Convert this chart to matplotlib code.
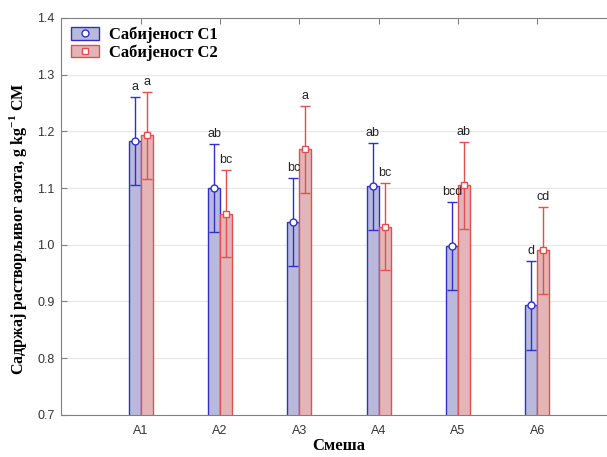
import numpy as np
import matplotlib.pyplot as plt
from matplotlib.patches import Patch
from matplotlib.lines import Line2D

# data
mixes = ['A1', 'A2', 'A3', 'A4', 'A5', 'A6']
c1_mean = [1.183, 1.100, 1.040, 1.103, 0.998, 0.893]
c1_err = [0.077, 0.077, 0.077, 0.077, 0.077, 0.078]
c2_mean = [1.193, 1.055, 1.168, 1.032, 1.105, 0.990]
c2_err = [0.077, 0.077, 0.077, 0.077, 0.077, 0.077]
c1_letters = ['a', 'ab', 'bc', 'ab', 'bcd', 'd']
c2_letters = ['a', 'bc', 'a', 'bc', 'ab', 'cd']

blue_edge = '#3030c8'
blue_fill = '#b9b9dc'
red_edge = '#e05050'
red_fill = '#e3b5b8'

plt.rcParams['font.family'] = ['Liberation Sans', 'DejaVu Sans']
plt.rcParams['mathtext.fontset'] = 'custom'
plt.rcParams['mathtext.rm'] = 'Liberation Serif:bold'
plt.rcParams['mathtext.bf'] = 'Liberation Serif:bold'

fig = plt.figure(figsize=(6.07, 4.57), dpi=100)
# right spine falls just outside the picture, as in the original
ax = fig.add_axes([0.1012, 0.092, 0.9145, 0.869])

x = np.arange(1, len(mixes) + 1)
w = 0.15

ax.bar(x - w / 2, c1_mean, w, color=blue_fill, edgecolor=blue_edge, lw=1, zorder=2)
ax.bar(x + w / 2, c2_mean, w, color=red_fill, edgecolor=red_edge, lw=1, zorder=2)
ax.errorbar(x - w / 2, c1_mean, yerr=c1_err, fmt='none', ecolor=blue_edge,
            elinewidth=1, capsize=3.5, capthick=1, zorder=3)
ax.errorbar(x + w / 2, c2_mean, yerr=c2_err, fmt='none', ecolor=red_edge,
            elinewidth=1, capsize=3.5, capthick=1, zorder=3)
ax.plot(x - w / 2, c1_mean, 'o', ms=5, mfc='white', mec=blue_edge, mew=1, ls='', zorder=4)
ax.plot(x + w / 2, c2_mean, 's', ms=5, mfc='white', mec=red_edge, mew=1, ls='', zorder=4)

for xi, m, e, t in zip(x - w / 2, c1_mean, c1_err, c1_letters):
    ax.text(xi, m + e + 0.007, t, ha='center', va='bottom', fontsize=9, color='#222222')
for xi, m, e, t in zip(x + w / 2, c2_mean, c2_err, c2_letters):
    ax.text(xi, m + e + 0.007, t, ha='center', va='bottom', fontsize=9, color='#222222')

ax.set_xlim(0, 7)
ax.set_ylim(0.7, 1.4)
ax.set_xticks(x)
ax.set_xticklabels(mixes, fontsize=9, color='#333333')
ax.set_yticks(np.arange(0.7, 1.41, 0.1))
ax.set_yticklabels(['%.1f' % v for v in np.arange(0.7, 1.41, 0.1)], fontsize=9, color='#333333')
ax.tick_params(direction='in', top=True, right=True, length=4, color='#808080', pad=5)
ax.tick_params(axis='x', pad=7)
ax.grid(axis='y', color='#e6e6e6', lw=0.8, zorder=0)
ax.set_axisbelow(True)
for s in ax.spines.values():
    s.set_color('#808080')

serif = ['Liberation Serif', 'DejaVu Serif']
ax.set_xlabel('Смеша', family=serif, fontweight='bold', fontsize=12, labelpad=1)
ax.set_ylabel('Садржај растворљивог азота, g kg$^{-1}$ СМ', family=serif,
              fontweight='bold', fontsize=11.5)
ax.yaxis.set_label_coords(-0.058, 0.47)

h1 = (Patch(facecolor=blue_fill, edgecolor=blue_edge),
      Line2D([], [], marker='o', ms=5, mfc='white', mec=blue_edge, ls=''))
h2 = (Patch(facecolor=red_fill, edgecolor=red_edge),
      Line2D([], [], marker='s', ms=5, mfc='white', mec=red_edge, ls=''))
ax.legend([h1, h2], ['Сабијеност С1', 'Сабијеност С2'], loc='upper left',
          frameon=False, prop={'family': serif, 'weight': 'bold', 'size': 12},
          handlelength=1.7, handleheight=0.8, borderaxespad=0.15,
          labelspacing=0.05, handletextpad=0.6)

fig.savefig('out.png', dpi=100)
